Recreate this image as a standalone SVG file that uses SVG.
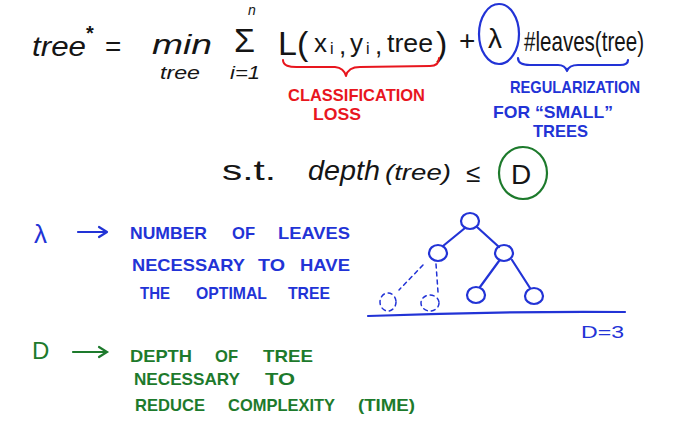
<svg xmlns="http://www.w3.org/2000/svg" width="695" height="424" viewBox="0 0 695 424">
<style>
text{font-family:"Liberation Sans","DejaVu Sans",sans-serif}
.k{fill:#151515}
.r{fill:#e8161e}
.b{fill:#2233d6}
.g{fill:#1d7a2c}
.sb{fill:none;stroke:#2233d6;stroke-width:2.2;stroke-linecap:round;stroke-linejoin:round}
.sr{fill:none;stroke:#e8161e;stroke-width:2;stroke-linecap:round;stroke-linejoin:round}
.sg{fill:none;stroke:#1d7a2c;stroke-width:2.2;stroke-linecap:round}
.cap{font-size:17px;font-weight:600}
.d{stroke-dasharray:4 4;stroke-width:1.5}
</style>
<rect width="695" height="424" fill="#fff"/>

<g id="formula">
<text class="k" x="32" y="56" font-size="28" font-style="italic" textLength="54" lengthAdjust="spacingAndGlyphs">tree</text>
<text class="k" x="86" y="40" font-size="20" font-weight="bold">*</text>
<text class="k" x="105" y="56" font-size="28">=</text>
<text class="k" x="152" y="54" font-size="28" font-style="italic" textLength="60" lengthAdjust="spacingAndGlyphs">min</text>
<text class="k" x="160" y="79" font-size="18" font-style="italic" textLength="40" lengthAdjust="spacingAndGlyphs">tree</text>
<text class="k" x="248" y="15" font-size="14" font-style="italic">n</text>
<text class="k" x="234" y="52" font-size="34">Σ</text>
<text class="k" x="230" y="79" font-size="18" font-style="italic" textLength="30" lengthAdjust="spacingAndGlyphs">i=1</text>
<text class="k" x="278" y="55" font-size="34">L(</text>
<text class="k" x="314" y="52" font-size="26">x</text>
<text class="k" x="330" y="54" font-size="16">i</text>
<text class="k" x="339" y="54" font-size="26">,</text>
<text class="k" x="350" y="52" font-size="26">y</text>
<text class="k" x="366" y="54" font-size="16">i</text>
<text class="k" x="375" y="54" font-size="26">,</text>
<text class="k" x="387" y="52" font-size="26" textLength="46" lengthAdjust="spacingAndGlyphs">tree</text>
<text class="k" x="436" y="55" font-size="34">)</text>
<text class="k" x="459" y="50" font-size="28">+</text>
<text class="k" x="488" y="48" font-size="28">λ</text>
<text class="k" x="524" y="51" font-size="28" textLength="120" lengthAdjust="spacingAndGlyphs">#leaves(tree)</text>
</g>

<g id="lambda-circle"><ellipse class="sb" cx="499" cy="34" rx="20" ry="30"/></g>

<g id="classification-loss">
<path class="sr" d="M283 60 Q283 68 300 67 L335 67 Q344 68 346 76 Q348 67 360 67 L430 66 Q439 66 439 58"/>
<text class="r cap" x="288" y="101" textLength="137" lengthAdjust="spacingAndGlyphs">CLASSIFICATION</text>
<text class="r cap" x="313" y="120" textLength="48" lengthAdjust="spacingAndGlyphs">LOSS</text>
</g>

<g id="regularization">
<path class="sb" d="M518 58 Q518 65 530 65 L558 65 Q565 65 567 71 Q569 65 578 65 L620 65 Q628 65 628 60"/>
<text class="b cap" x="510" y="93" textLength="130" lengthAdjust="spacingAndGlyphs">REGULARIZATION</text>
<text class="b cap" x="493" y="118" textLength="120" lengthAdjust="spacingAndGlyphs">FOR “SMALL”</text>
<text class="b cap" x="533" y="137" textLength="55" lengthAdjust="spacingAndGlyphs">TREES</text>
</g>

<g id="constraint">
<text class="k" x="222" y="180" font-size="28" textLength="54" lengthAdjust="spacingAndGlyphs">s.t.</text>
<text class="k" x="308" y="180" font-size="28" font-style="italic" textLength="72" lengthAdjust="spacingAndGlyphs">depth</text>
<text class="k" x="385" y="180" font-size="22" font-style="italic" textLength="66" lengthAdjust="spacingAndGlyphs">(tree)</text>
<text class="k" x="466" y="182" font-size="26">≤</text>
<text class="k" x="511" y="184" font-size="28">D</text>
</g>
<g id="D-circle"><ellipse class="sg" cx="523" cy="173" rx="24" ry="26"/></g>

<g id="lambda-note">
<text class="b" x="34" y="243" font-size="26">λ</text>
<path class="sb" d="M78 232 L106 232 M99 227 L107 232 L99 237"/>
<text class="b cap" x="130" y="239" textLength="77" lengthAdjust="spacingAndGlyphs">NUMBER</text>
<text class="b cap" x="232" y="239" textLength="23" lengthAdjust="spacingAndGlyphs">OF</text>
<text class="b cap" x="278" y="239" textLength="72" lengthAdjust="spacingAndGlyphs">LEAVES</text>
<text class="b cap" x="132" y="271" textLength="113" lengthAdjust="spacingAndGlyphs">NECESSARY</text>
<text class="b cap" x="258" y="271" textLength="27" lengthAdjust="spacingAndGlyphs">TO</text>
<text class="b cap" x="300" y="271" textLength="50" lengthAdjust="spacingAndGlyphs">HAVE</text>
<text class="b cap" x="140" y="299" textLength="30" lengthAdjust="spacingAndGlyphs">THE</text>
<text class="b cap" x="196" y="299" textLength="71" lengthAdjust="spacingAndGlyphs">OPTIMAL</text>
<text class="b cap" x="288" y="299" textLength="42" lengthAdjust="spacingAndGlyphs">TREE</text>
</g>

<g id="D-note">
<text class="g" x="32" y="359" font-size="24">D</text>
<path class="sg" d="M73 352 L106 352 M99 347 L107 352 L99 357"/>
<text class="g cap" x="130" y="362" textLength="62" lengthAdjust="spacingAndGlyphs">DEPTH</text>
<text class="g cap" x="215" y="362" textLength="23" lengthAdjust="spacingAndGlyphs">OF</text>
<text class="g cap" x="263" y="362" textLength="50" lengthAdjust="spacingAndGlyphs">TREE</text>
<text class="g cap" x="134" y="385" textLength="106" lengthAdjust="spacingAndGlyphs">NECESSARY</text>
<text class="g cap" x="265" y="385" textLength="30" lengthAdjust="spacingAndGlyphs">TO</text>
<text class="g cap" x="135" y="411" textLength="70" lengthAdjust="spacingAndGlyphs">REDUCE</text>
<text class="g cap" x="228" y="411" textLength="107" lengthAdjust="spacingAndGlyphs">COMPLEXITY</text>
<text class="g cap" x="358" y="411" textLength="57" lengthAdjust="spacingAndGlyphs">(TIME)</text>
</g>

<g id="connectors">
<path class="sb" d="M465 228 L443 246"/>
<path class="sb" d="M477 227 L499 247"/>
<path class="sb" d="M499 261 L480 287"/>
<path class="sb" d="M512 260 L530 288"/>
<path class="sb d" d="M423 265 L399 290"/>
<path class="sb d" d="M436 264 L438 292"/>
</g>

<g id="n-root"><ellipse class="sb" cx="470" cy="221" rx="9" ry="8"/></g>
<g id="n-left"><ellipse class="sb" cx="438" cy="253" rx="9" ry="8"/></g>
<g id="n-right"><ellipse class="sb" cx="504" cy="253" rx="9" ry="8"/></g>
<g id="n-rl"><ellipse class="sb" cx="476" cy="295" rx="9" ry="8"/></g>
<g id="n-rr"><ellipse class="sb" cx="534" cy="296" rx="9" ry="8"/></g>
<g id="n-dl"><ellipse class="sb d" cx="388" cy="302" rx="8" ry="9"/></g>
<g id="n-dr"><ellipse class="sb d" cx="430" cy="303" rx="9" ry="8"/></g>

<g id="ground">
<path class="sb" d="M368 316 Q500 311 625 312"/>
<text class="b" x="581" y="338" font-size="17" textLength="43" lengthAdjust="spacingAndGlyphs">D=3</text>
</g>
</svg>
